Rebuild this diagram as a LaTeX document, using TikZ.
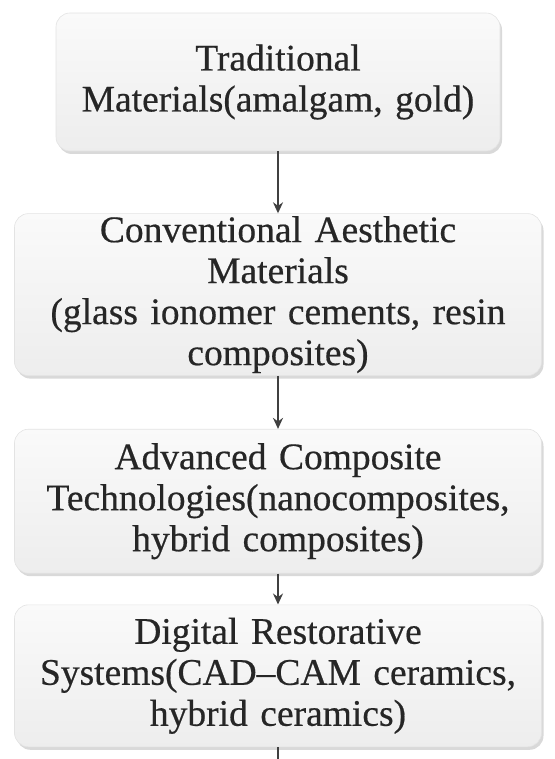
\documentclass[tikz,border=0pt]{standalone}
\usepackage{fontspec}
\setmainfont[WordSpace=0.55,FakeBold=0.5]{Liberation Serif}
\usetikzlibrary{positioning,shadows,arrows.meta}

\tikzset{
  stage/.style={rounded corners=14pt, top color=gray!4, bottom color=gray!14,
    draw=gray!22, line width=0.6pt,
    drop shadow={opacity=0.3, shadow xshift=2pt, shadow yshift=-3pt},
    align=center, inner sep=0pt, text=black!85,
    font=\fontsize{37.5}{41}\selectfont},
  widestage/.style={stage, text width=527pt},
  flow/.style={-{Stealth[length=11pt,width=10pt]}, line width=2.4pt, black!75}
}

\begin{document}
\begin{tikzpicture}[x=1pt,y=1pt]
    \useasboundingbox (0,0) rectangle (554,-759);
    \node[stage, text width=444pt, minimum height=138pt] (trad) at (278,-82)
      {Traditional\\Materials(amalgam, gold)};
    \node[widestage, minimum height=162pt, below=62pt of trad] (conv)
      {Conventional Aesthetic\\Materials\\(glass ionomer cements, resin\\composites)};
    \node[widestage, minimum height=144pt, below=53pt of conv] (adv)
      {Advanced Composite\\Technologies(nanocomposites,\\hybrid composites)};
    \node[widestage, minimum height=142pt, below=31pt of adv] (digi)
      {Digital Restorative\\Systems(CAD--CAM ceramics,\\hybrid ceramics)};
    \coordinate (tail) at (278,-759);
    \foreach \a/\b in {trad/conv,conv/adv,adv/digi}{
      \draw[flow] (\a) -- (\b);
    }
    \draw[line width=2.4pt, black!75] (digi) -- (tail);
\end{tikzpicture}
\end{document}
